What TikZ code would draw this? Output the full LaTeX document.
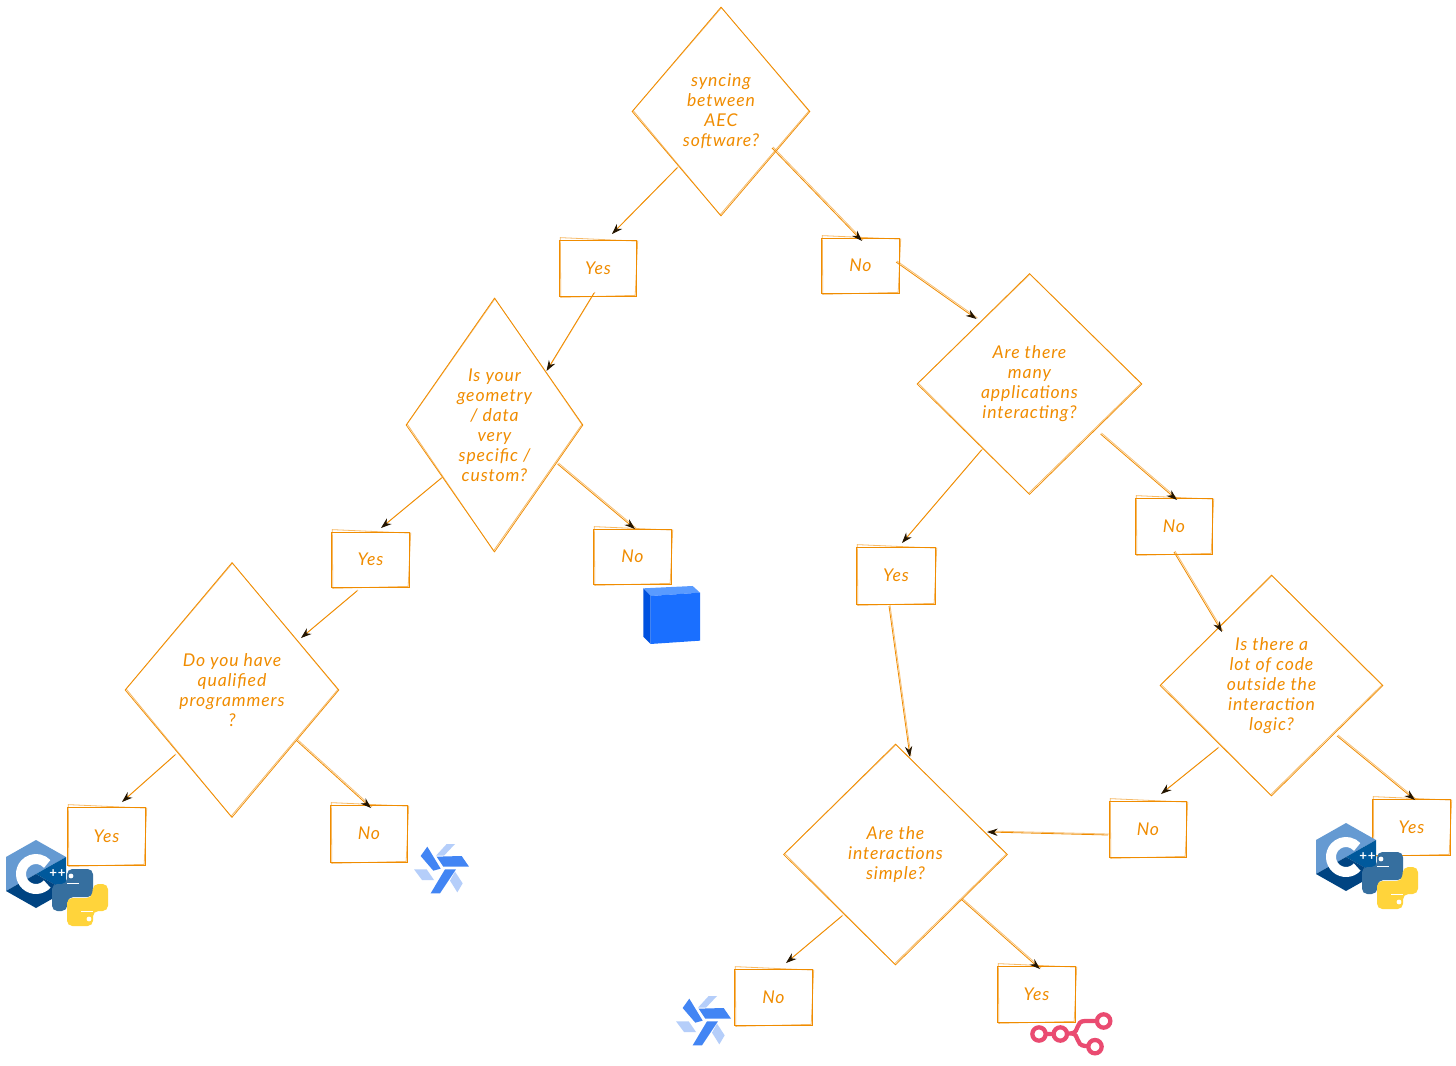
\documentclass[tikz,border=0pt]{standalone}
\usepackage{fontspec}
\setmainfont{Lato}[LetterSpace=5]
\usetikzlibrary{shapes.geometric,arrows.meta,calc}
\definecolor{sk}{HTML}{F08C00}
\definecolor{cppl}{HTML}{659AD2}
\definecolor{cppm}{HTML}{00599C}
\definecolor{cppd}{HTML}{004482}
\definecolor{pyb}{HTML}{366F9F}
\definecolor{pyy}{HTML}{FFD43B}
\definecolor{wind}{HTML}{4285F4}
\definecolor{windl}{HTML}{B5CEFA}
\definecolor{cubef}{HTML}{1A6FFF}
\definecolor{cubet}{HTML}{5A9BFF}
\definecolor{cubel}{HTML}{0052E0}
\definecolor{neen}{HTML}{EA4B71}
\tikzset{
  skbase/.style={draw=sk,line width=0.55pt,align=center,text=sk,inner sep=0pt,
     font=\fontsize{13.2}{15}\selectfont\itshape},
  skdia/.style={skbase,shape=diamond},
  skbox/.style={skbase,shape=rectangle},
  sktwo/.style={draw=sk,draw opacity=0.6,line width=0.6pt},
  conn/.style={draw=sk,line width=0.6pt,-{Stealth[length=8pt,width=5.5pt,color=black!85!sk]}},
  conntwo/.style={draw=sk,draw opacity=0.55,line width=0.6pt},
  cpppy/.pic={
    \fill[cppl] (36,840)--(66,857)--(36,874)--(6,891)--(6,857)--cycle;
    \fill[cppm] (66,857)--(66,891)--(36,874)--cycle;
    \fill[cppd] (6,891)--(36,874)--(66,891)--(36,908)--cycle;
    \draw[white,line width=7.5pt] (36,874) ++(42:15) arc (42:318:15);
    \node[white,font=\fontsize{10}{10}\selectfont\bfseries] at (57.5,874) {++};
    \pyhalf{pyb}
    \begin{scope}[rotate around={180:(80,897.5)}]\pyhalf{pyy}\end{scope}
  },
  windmill/.pic={
    \begin{scope}[shift={(400,830)},scale=0.3333]
      \fill[windl] (108,77)--(140,42)--(165,42)--(132,77)--cycle;
      \fill[windl] (42,118)--(80,118)--(102,150)--(66,150)--cycle;
      \fill[windl] (165,125)--(188,160)--(172,187)--(150,152)--cycle;
      \fill[wind] (62,78)--(82,50)--(122,116)--(100,122)--cycle;
      \fill[wind] (110,80)--(185,78)--(207,110)--(130,110)--cycle;
      \fill[wind] (135,118)--(168,118)--(120,190)--(92,190)--cycle;
    \end{scope}
  },
}
\newcommand\pyhalf[1]{%
  \fill[#1,rounded corners=4pt] (67,884)--(67,869)--(93,869)--(93,897)--(68,897)--(67,911)--(52,911)--(52,884)--cycle;
  \draw[white,line width=1.1pt] (67,883.5)--(79,883.5);
  \fill[white] (71,876) circle (2.4);
}
\newcommand\dia[6]{% name, cx, cy, w, h, text
  \pgfmathsetmacro\skasp{#4/#5}
  \node[skdia,shape aspect=\skasp,minimum width=#4*0.75pt,minimum height=#5*0.75pt] (#1) at (#2,#3) {#6};
  \draw[sktwo] ($(#1.north)+(0.5,1)$)--($(#1.east)+(-1.5,-0.5)$)--($(#1.south)+(-1,-1.5)$)--($(#1.west)+(1.5,-1)$)--cycle;
}
\newcommand\skb[6]{%
  \node[skbox,minimum width=#4*0.75pt-1pt,minimum height=#5*0.75pt] (#1) at (#2,#3) {#6};
  \draw[sktwo] ($(#1.north west)+(1,-2)$)--($(#1.north east)+(1,1.5)$)--($(#1.south east)+(-1.5,-1)$)--($(#1.south west)+(1.5,1)$)--cycle;
}
\newcommand\conn[6]{%
  \draw[conntwo] ($(#1)+(#2+1,#3-1)$)--($(#4)+(#5+1,#6-1)$);
  \draw[conn] ($(#1)+(#2,#3)$)--($(#4)+(#5,#6)$);
}
\begin{document}
\begin{tikzpicture}[x=0.75pt,y=-0.75pt]
\useasboundingbox (0,0) rectangle (1456,1066);
\fill[white] (0,0) rectangle (1456,1066);
\dia{d1}{721}{111.5}{178}{209}{syncing\\between\\AEC\\software?}
\dia{d2}{494.5}{425}{177}{254}{Is your\\geometry\\/ data\\very\\specific /\\custom?}
\dia{d3}{232}{690}{214}{255}{Do you have\\qualified\\programmers\\?}
\dia{d4}{1029.5}{384}{225}{221}{Are there\\many\\applications\\interacting?}
\dia{d5}{1271.5}{685.5}{223}{221}{Is there a\\lot of code\\outside the\\interaction\\logic?}
\dia{d6}{895.5}{854.5}{224}{221}{Are the\\interactions\\simple?}
\skb{y1}{598}{268}{78}{56}{Yes}
\skb{n1}{860.5}{265.5}{79}{55}{No}
\skb{y2}{370.5}{559.5}{79}{55}{Yes}
\skb{n2}{632.5}{556.5}{79}{55}{No}
\skb{y3}{896}{575.5}{80}{57}{Yes}
\skb{n3}{1174}{526}{78}{56}{No}
\skb{y4}{106.5}{836}{79}{58}{Yes}
\skb{n4}{369}{833.5}{78}{57}{No}
\skb{n5}{1148}{829}{78}{56}{No}
\skb{y5}{1411.5}{827}{79}{56}{Yes}
\skb{n6}{773.5}{997}{79}{56}{No}
\skb{y6}{1036.5}{994}{79}{56}{Yes}
\conn{d1}{-44}{56.5}{y1}{14}{-34}
\conn{d1}{51}{36.5}{n1}{1.5}{-24.5}
\conn{y1}{-4}{25}{d2}{52}{-54}
\conn{n1}{35.5}{-3.5}{d4}{-53}{-65}
\conn{d2}{-53}{53}{y2}{10.5}{-31.5}
\conn{d2}{63}{39}{n2}{2.5}{-27.5}
\conn{y2}{-13.5}{31.5}{d3}{69}{-52}
\conn{d3}{-57}{65}{y4}{15.5}{-34}
\conn{d3}{65}{51}{n4}{2}{-25.5}
\conn{d4}{-48}{66}{y3}{6}{-32.5}
\conn{d4}{71}{50}{n3}{3}{-26}
\conn{n3}{0}{26}{d5}{-49.5}{-53.5}
\conn{y3}{-7}{30.5}{d6}{14.5}{-97.5}
\conn{d5}{-53.5}{62.5}{n5}{13}{-35}
\conn{d5}{65.5}{50.5}{y5}{3.5}{-27}
\conn{n5}{-40}{6}{d6}{91.5}{-22.5}
\conn{d6}{-53.5}{61.5}{n6}{12.5}{-34}
\conn{d6}{66.5}{45.5}{y6}{3.5}{-25}
% icons
\pic at (0,0) {cpppy};
\pic at (1310,-17) {cpppy};
\pic at (0,0) {windmill};
\pic at (262,152) {windmill};
% cube
\begin{scope}[shift={(620,520)},scale=0.3333]
  \fill[cubet] (70,205)--(218,198)--(240,218)--(92,228)--cycle;
  \fill[cubel] (70,205)--(92,228)--(92,372)--(70,350)--cycle;
  \fill[cubef] (92,228)--(240,218)--(240,362)--(92,372)--cycle;
\end{scope}
% n8n mark
\begin{scope}[shift={(1000,960)},scale=0.3333,neenl/.style={draw=neen,line width=3.2pt,line cap=round}]
  \draw[neenl] (117,222)--(181,222)--(215,220) .. controls (240,216) and (225,183) .. (255,183)--(311,183);
  \draw[neenl] (215,220) .. controls (240,224) and (225,255) .. (255,258)--(285,260);
  \foreach \c in {(117,222),(181,222),(311,183),(285,260)}
    \draw[neenl,fill=white] \c circle (20);
\end{scope}
\end{tikzpicture}
\end{document}
